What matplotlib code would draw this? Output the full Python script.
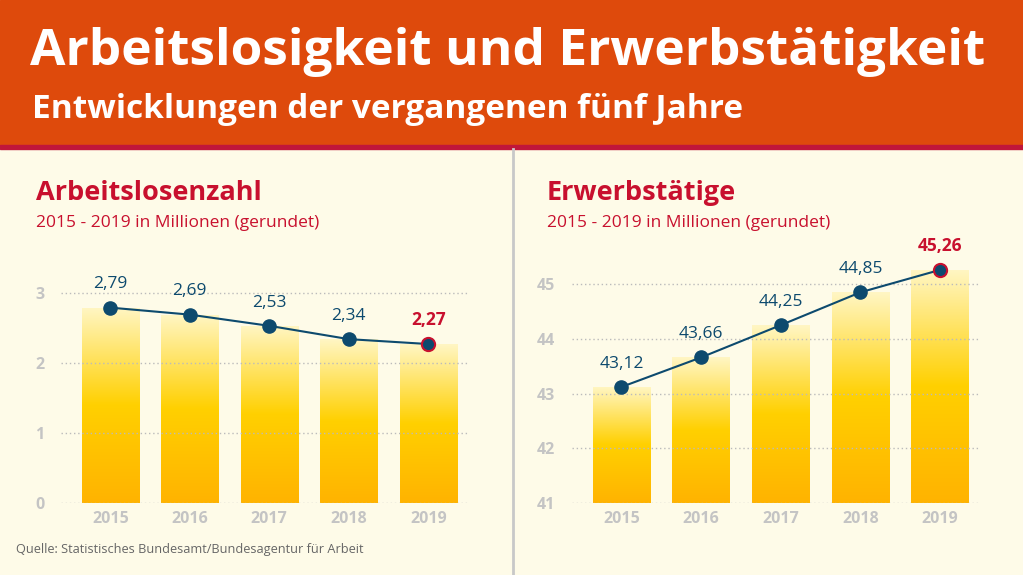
import numpy as np
import matplotlib.pyplot as plt
from matplotlib.colors import LinearSegmentedColormap

jahre = ["2015", "2016", "2017", "2018", "2019"]
arbeitslose = [2.79, 2.69, 2.53, 2.34, 2.27]
erwerbstaetige = [43.12, 43.66, 44.25, 44.85, 45.26]
labels_links = ["2,79", "2,69", "2,53", "2,34", "2,27"]
labels_rechts = ["43,12", "43,66", "44,25", "44,85", "45,26"]

plt.rcParams["font.family"] = ["Open Sans", "DejaVu Sans"]
W, H = 1023, 575
bg = "#fefbe8"
navy = "#0d4a6e"
red = "#c8102e"
fig = plt.figure(figsize=(W / 100, H / 100), dpi=100, facecolor=bg)

# header
fig.patches.append(plt.Rectangle((0, 1 - 145 / H), 1, 145 / H, transform=fig.transFigure, color="#de4a0c", zorder=0))
fig.patches.append(plt.Rectangle((0, 1 - 149 / H), 1, 4 / H, transform=fig.transFigure, color="#c0163a", zorder=0))
fig.text(30 / W, 1 - 52 / H, "Arbeitslosigkeit und Erwerbstätigkeit", color="white", fontsize=37, fontweight="bold", va="center")
fig.text(32 / W, 1 - 110 / H, "Entwicklungen der vergangenen fünf Jahre", color="white", fontsize=24, fontweight="bold", va="center")
fig.lines.append(plt.Line2D([513 / W, 513 / W], [0, 1 - 149 / H], transform=fig.transFigure, color="#c8c8c8", lw=2))
fig.text(16 / W, 1 - 549 / H, "Quelle: Statistisches Bundesamt/Bundesagentur für Arbeit", color="#666666", fontsize=9.2, va="center")

cmap = LinearSegmentedColormap.from_list("g", ["#ffb300", "#ffd000", "#fff6c4"])


def panel(left, right, ymin, ymax, values, labels, ticks, title, tx):
    ax = fig.add_axes([left / W, 1 - 503 / H, (right - left) / W, (503 - 260) / H])
    ax.set_facecolor("none")
    x = np.arange(len(values))
    bars = ax.bar(x, values, width=0.72, bottom=0, color="none")
    ax.set_ylim(ymin, ymax)
    ax.set_xlim(-0.62, 4.5)
    grad = np.linspace(0, 1, 256).reshape(-1, 1)
    for b, v in zip(bars, values):
        im = ax.imshow(grad, cmap=cmap, aspect="auto", origin="lower",
                       extent=[b.get_x(), b.get_x() + b.get_width(), ymin, v], zorder=1)
        im.set_clip_path(b)
    ax.set_yticks(ticks)
    ax.grid(axis="y", color="#bbbbbb", ls=(0, (1, 2)), lw=1, zorder=0)
    ax.plot(x, values, color=navy, lw=1.5, zorder=3)
    ax.scatter(x[:-1], values[:-1], s=90, color=navy, zorder=4)
    ax.scatter(x[-1:], values[-1:], s=90, color=navy, edgecolor=red, linewidth=1.5, zorder=4)
    for i, (v, l) in enumerate(zip(values, labels)):
        last = i == len(values) - 1
        ax.annotate(l, (i, v), xytext=(0, 11), textcoords="offset points", ha="center", va="bottom",
                    fontsize=12.5, color=red if last else navy, fontweight="bold" if last else "normal")
    ax.set_xticks(x, jahre)
    for s in ax.spines.values():
        s.set_visible(False)
    ax.tick_params(length=0, colors="#c4c4c4", labelsize=11.5)
    for t in ax.get_xticklabels() + ax.get_yticklabels():
        t.set_fontweight("bold")
    ax.tick_params(axis="y", pad=12)
    ax.tick_params(axis="x", pad=6)
    ax.autoscale(False)
    fig.text(tx / W, 1 - 193 / H, title, color=red, fontsize=19.5, fontweight="bold", va="center")
    fig.text(tx / W, 1 - 223 / H, "2015 - 2019 in Millionen (gerundet)", color=red, fontsize=12.5, va="center")


panel(61, 468, 0, 3.47, arbeitslose, labels_links, [0, 1, 2, 3], "Arbeitslosenzahl", 36)
panel(572, 980, 41, 45.44, erwerbstaetige, labels_rechts, [41, 42, 43, 44, 45], "Erwerbstätige", 547)

fig.savefig("out.png", dpi=100, facecolor=bg)
